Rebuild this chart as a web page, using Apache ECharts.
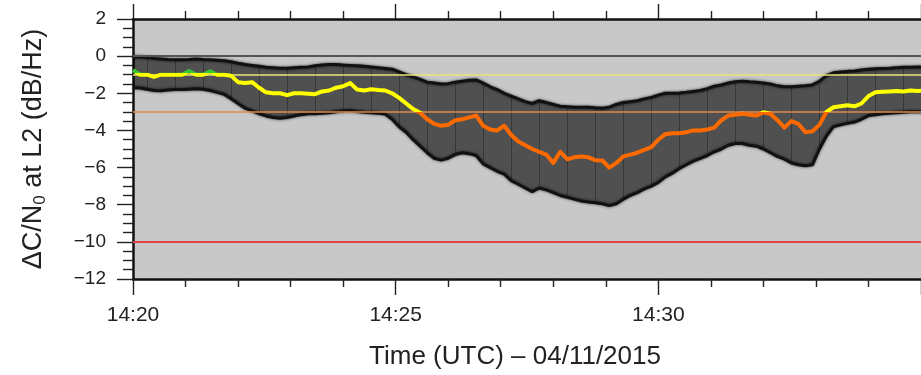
<!DOCTYPE html>
<html>
<head>
<meta charset="utf-8">
<script src="https://cdn.jsdelivr.net/npm/echarts@6/dist/echarts.min.js"></script>
<style>
  html, body { margin: 0; padding: 0; background: #fff; }
  #chart { width: 921px; height: 375px; }
</style>
</head>
<body>
<div id="chart"></div>
<script>
// Sample times, seconds after 14:20:00 UTC (one sample every 8 s)
const seconds = [
  0, 8, 16, 24, 32, 40, 48, 56, 64, 72, 80, 88, 96, 104, 112, 120,
  128, 136, 144, 152, 160, 168, 176, 184, 192, 200, 208, 216, 224, 232, 240, 248,
  256, 264, 272, 280, 288, 296, 304, 312, 320, 328, 336, 344, 352, 360, 368, 376,
  384, 392, 400, 408, 416, 424, 432, 440, 448, 456, 464, 472, 480, 488, 496, 504,
  512, 520, 528, 536, 544, 552, 560, 568, 576, 584, 592, 600, 608, 616, 624, 632,
  640, 648, 656, 664, 672, 680, 688, 696, 704, 712, 720, 728, 736, 744, 752, 760,
  768, 776, 784, 792, 800, 808, 816, 824, 832, 840, 848, 856, 864, 872, 880, 888,
  896, 904
];

// Mean C/N0 change at L2 (dB/Hz)
const meanDb = [
  -0.75, -1.0, -1.0, -1.12, -1.0, -1.0, -1.0, -1.0, -0.8, -1.0, -1.0, -0.82, -1.0, -1.0, -1.05, -1.4,
  -1.45, -1.4, -1.7, -1.95, -2.0, -2.0, -2.1, -2.0, -2.0, -2.02, -2.05, -1.9, -1.85, -1.7, -1.62, -1.45,
  -1.8, -1.85, -1.78, -1.82, -1.85, -2.0, -2.25, -2.55, -2.85, -3.05, -3.4, -3.65, -3.75, -3.7, -3.45, -3.4,
  -3.3, -3.2, -3.75, -3.95, -4.0, -3.75, -4.25, -4.6, -4.8, -5.0, -5.15, -5.3, -5.75, -5.15, -5.55, -5.45,
  -5.4, -5.45, -5.6, -5.62, -6.0, -5.75, -5.4, -5.3, -5.2, -5.05, -4.9, -4.5, -4.2, -4.15, -4.15, -4.1,
  -4.0, -4.0, -3.95, -3.85, -3.45, -3.2, -3.15, -3.1, -3.15, -3.2, -3.02, -3.1, -3.45, -3.85, -3.5, -3.65,
  -4.1, -4.05, -3.7, -3.0, -2.75, -2.7, -2.65, -2.7, -2.55, -2.15, -1.95, -1.92, -1.9, -1.88, -1.9, -1.85,
  -1.88, -1.85
];

// Upper end of the spread (dB/Hz)
const upperDb = [
  -0.05, -0.05, -0.08, -0.12, -0.15, -0.18, -0.2, -0.2, -0.18, -0.15, -0.18, -0.2, -0.22, -0.25, -0.3, -0.38,
  -0.45, -0.5, -0.55, -0.6, -0.62, -0.65, -0.65, -0.62, -0.6, -0.58, -0.52, -0.48, -0.45, -0.45, -0.48, -0.5,
  -0.52, -0.55, -0.58, -0.62, -0.66, -0.7, -0.85, -1.0, -1.12, -1.25, -1.4, -1.45, -1.5, -1.48, -1.4, -1.35,
  -1.3, -1.28, -1.45, -1.65, -1.8, -2.0, -2.15, -2.3, -2.45, -2.55, -2.4, -2.5, -2.6, -2.7, -2.72, -2.75,
  -2.75, -2.75, -2.78, -2.8, -2.75, -2.6, -2.5, -2.45, -2.4, -2.3, -2.22, -2.1, -2.0, -2.0, -1.98, -1.95,
  -1.9, -1.85, -1.75, -1.62, -1.55, -1.45, -1.38, -1.35, -1.38, -1.4, -1.45, -1.5, -1.6, -1.65, -1.65, -1.62,
  -1.6, -1.55, -1.35, -1.05, -0.9, -0.85, -0.82, -0.8, -0.75, -0.7, -0.68, -0.66, -0.65, -0.62, -0.6, -0.6,
  -0.58, -0.58
];

// Lower end of the spread (dB/Hz)
const lowerDb = [
  -1.7, -1.72, -1.78, -1.85, -1.86, -1.82, -1.8, -1.8, -1.78, -1.76, -1.78, -1.85, -1.95, -2.05, -2.3, -2.55,
  -2.8, -2.95, -3.1, -3.22, -3.3, -3.35, -3.3, -3.22, -3.15, -3.1, -3.1, -3.08, -3.05, -3.0, -2.95, -2.93,
  -2.98, -3.02, -3.05, -3.08, -3.12, -3.4, -3.8, -4.1, -4.5, -4.85, -5.2, -5.5, -5.6, -5.5, -5.3, -5.2,
  -5.25, -5.35, -5.8, -6.0, -6.2, -6.35, -6.7, -6.9, -7.1, -7.3, -7.1, -7.2, -7.35, -7.5, -7.6, -7.7,
  -7.8, -7.85, -7.9, -7.95, -8.05, -7.95, -7.7, -7.5, -7.35, -7.15, -7.0, -6.8, -6.5, -6.3, -6.05, -5.85,
  -5.65, -5.5, -5.35, -5.15, -5.0, -4.8, -4.7, -4.7, -4.8, -4.85, -5.0, -5.2, -5.4, -5.55, -5.75, -5.85,
  -5.9, -5.85, -5.0, -4.3, -3.8, -3.7, -3.62, -3.55, -3.4, -3.2, -3.15, -3.1, -3.08, -3.05, -3.02, -3.0,
  -3.0, -3.0
];

// Threshold levels (dB/Hz) and the time-axis ticks
const levelValues = [0, -1, -3, -10];
const levelColors = ['#555555', '#e8e27a', '#de8a55', '#e0403f'];
const timeTicks = [0, 300, 600, 900];
const timeTickLabels = ['14:20', '14:25', '14:30', '14:35'];

const FONT = '"Liberation Sans", Arial, Helvetica, sans-serif';

const meanData = seconds.map((t, i) => [t, meanDb[i]]);
const lowerData = seconds.map((t, i) => [t, lowerDb[i]]);
const upperData = seconds.map((t, i) => [t, upperDb[i]]);
const spreadRows = seconds.map((t, i) => [t, lowerDb[i], upperDb[i]]);
// vertical guide strokes every 32 s inside the spread
const stemData = spreadRows.filter(d => (d[0] - 16) % 32 === 0);

const minus = v => (v < 0 ? '\u2212' + Math.abs(v) : String(v));

const chart = echarts.init(document.getElementById('chart'), null, { renderer: 'canvas' });

const tickStyle = { color: '#222', width: 1.4 };

chart.setOption({
  animation: false,
  backgroundColor: '#ffffff',
  grid: {
    left: 133, top: 19, right: -1, bottom: 93,
    show: true, backgroundColor: '#c8c8c8', borderWidth: 0
  },
  visualMap: {
    type: 'piecewise', show: false, seriesIndex: 5, dimension: 1,
    pieces: [
      { gt: -0.9, color: '#33c833' },
      { gt: -3, lte: -0.9, color: '#ffff00' },
      { gt: -10, lte: -3, color: '#ff6a00' },
      { lte: -10, color: '#e82020' }
    ]
  },
  xAxis: [
    {
      type: 'value', min: 0, max: 900, interval: 300, position: 'bottom',
      axisLine: { show: true, onZero: false, lineStyle: { color: '#111', width: 2.5 } },
      axisTick: { show: true, length: 16, lineStyle: tickStyle },
      minorTick: { show: true, splitNumber: 5, length: 8, lineStyle: tickStyle },
      splitLine: { show: false },
      axisLabel: {
        margin: 26, fontSize: 21, color: '#222', fontFamily: FONT,
        showMaxLabel: false,
        formatter: v => timeTickLabels[timeTicks.indexOf(v)] || ''
      },
      name: 'Time (UTC) \u2013 04/11/2015',
      nameLocation: 'middle', nameGap: 65,
      nameTextStyle: { fontSize: 26, color: '#222', fontFamily: FONT, padding: [0, 24, 0, 0] }
    },
    {
      type: 'value', min: 0, max: 900, interval: 300, position: 'top',
      axisLine: { show: true, onZero: false, lineStyle: { color: '#111', width: 2.5 } },
      axisTick: { show: true, length: 15, lineStyle: tickStyle },
      minorTick: { show: true, splitNumber: 5, length: 8, lineStyle: tickStyle },
      splitLine: { show: false },
      axisLabel: { show: false }
    }
  ],
  yAxis: {
    type: 'value', min: -12, max: 2, interval: 2,
    axisLine: { show: true, onZero: false, lineStyle: { color: '#111', width: 2.5 } },
    axisTick: { show: true, length: 16, lineStyle: tickStyle },
    minorTick: { show: true, splitNumber: 4, length: 10, lineStyle: tickStyle },
    splitLine: { show: false },
    axisLabel: { margin: 27, fontSize: 19, color: '#222', fontFamily: FONT, formatter: minus },
    name: '{t|\u0394C/N}{s|0}{t| at L2 (dB/Hz)}',
    nameLocation: 'middle', nameRotate: 90, nameGap: 84,
    nameTextStyle: {
      color: '#222', fontFamily: FONT,
      rich: {
        t: { fontSize: 27, color: '#222', fontFamily: FONT },
        s: { fontSize: 17, color: '#222', fontFamily: FONT, padding: [14, 0, 0, 0] }
      }
    }
  },
  series: [
    {
      // threshold levels
      name: 'levels', type: 'line', data: [], z: 1, silent: true,
      markLine: {
        silent: true, symbol: 'none', animation: false,
        label: { show: false },
        data: levelValues.map((v, i) => ({
          yAxis: v,
          lineStyle: { color: levelColors[i], type: 'solid', width: (v === 0 || v === -10) ? 2 : 1.5 }
        }))
      }
    },
    {
      // translucent spread between the lower and upper ends, drawn as one polygon
      name: 'spread', type: 'custom', z: 2, silent: true, clip: true,
      data: spreadRows,
      renderItem: (params, api) => {
        if (params.dataIndex !== 0) return null;
        const top = spreadRows.map(r => api.coord([r[0], r[2]]));
        const bottom = spreadRows.map(r => api.coord([r[0], r[1]])).reverse();
        return {
          type: 'polygon',
          shape: { points: top.concat(bottom) },
          style: { fill: 'rgba(0,0,0,0.6)' }
        };
      }
    },
    {
      name: 'spread-guides', type: 'custom', z: 3, silent: true,
      data: stemData,
      renderItem: (params, api) => {
        const p1 = api.coord([api.value(0), api.value(1)]);
        const p2 = api.coord([api.value(0), api.value(2)]);
        return {
          type: 'line',
          shape: { x1: Math.round(p1[0]) + 0.5, y1: p1[1], x2: Math.round(p2[0]) + 0.5, y2: p2[1] },
          style: { stroke: 'rgba(0,0,0,0.3)', lineWidth: 1 }
        };
      }
    },
    {
      name: 'upper', type: 'line', data: upperData,
      showSymbol: false, symbol: 'none', z: 4, silent: true,
      lineStyle: { color: '#111', width: 3, shadowBlur: 3, shadowColor: 'rgba(0,0,0,0.7)' }
    },
    {
      name: 'lower', type: 'line', data: lowerData,
      showSymbol: false, symbol: 'none', z: 4, silent: true,
      lineStyle: { color: '#111', width: 3, shadowBlur: 3, shadowColor: 'rgba(0,0,0,0.7)' }
    },
    {
      name: 'mean', type: 'line', data: meanData,
      showSymbol: false, symbol: 'none', z: 5, silent: true,
      lineStyle: { width: 4, join: 'round' }
    }
  ]
});
</script>
</body>
</html>
